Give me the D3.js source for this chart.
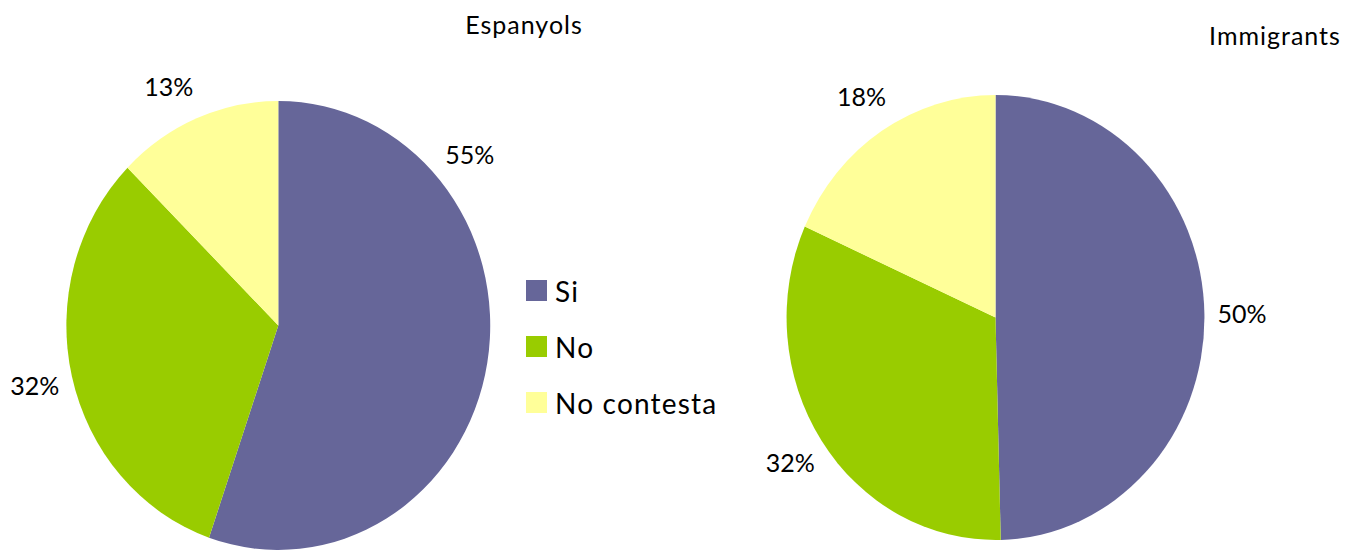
<!DOCTYPE html>
<html lang="ca">
<head>
<meta charset="UTF-8">
<title>Espanyols / Immigrants</title>
<style>
  body { margin: 0; background: #fff; }
  svg { display: block; font-family: Lato, "Open Sans", sans-serif; }
</style>
</head>
<body>
<script src="https://cdn.jsdelivr.net/npm/d3@7/dist/d3.min.js"></script>
<script>
// categories and series (percentages)
var categories = ["Si", "No", "No contesta"];
var colors = ["#666699", "#99CC00", "#FFFF99"];
var espanyols = [55.3, 32.1, 12.6];
var immigrants = [49.6, 32.1, 18.3];
var titles = ["Espanyols", "Immigrants"];

var width = 1348, height = 551;

var svg = d3.select("body").append("svg")
    .attr("width", width).attr("height", height);

// layout of each pie: centre, radius, horizontal squash (chart is slightly elliptical)
var pies = [
  { data: espanyols, cx: 278.3, cy: 325.5, r: 224.5, sx: 0.944, title: titles[0], tx: 524, ty: 34, labelAngle: [50, null, 334] },
  { data: immigrants, cx: 995.5, cy: 317.5, r: 222.5, sx: 0.939, title: titles[1], tx: 1275, ty: 45, labelAngle: [null, null, null] }
];

var pie = d3.pie().sort(null).value(function(d){ return d; });

pies.forEach(function(p){
  var arcs = pie(p.data);
  var arc = d3.arc().innerRadius(0).outerRadius(p.r);

  var g = svg.append("g")
      .attr("transform", "translate(" + p.cx + "," + p.cy + ") scale(" + p.sx + ",1)");

  g.selectAll("path").data(arcs).enter().append("path")
      .attr("d", arc)
      .attr("fill", function(d, i){ return colors[i]; });

  // percentage labels outside the pie
  var lr = p.r * 1.18;
  function ang(d, i){
    return p.labelAngle[i] != null ? p.labelAngle[i] * Math.PI / 180 : (d.startAngle + d.endAngle) / 2;
  }
  svg.append("g").selectAll("text").data(arcs).enter().append("text")
      .attr("x", function(d, i){ return p.cx + Math.sin(ang(d, i)) * lr * p.sx; })
      .attr("y", function(d, i){ return p.cy - Math.cos(ang(d, i)) * lr; })
      .attr("dy", "0.36em")
      .attr("text-anchor", "middle")
      .style("font-size", "25px")
      .attr("fill", "#000")
      .text(function(d){ return d3.format(".0f")(d.value) + "%"; });

  svg.append("text")
      .attr("x", p.tx).attr("y", p.ty)
      .attr("text-anchor", "middle")
      .style("font-size", "25px")
      .style("letter-spacing", "1px")
      .text(p.title);
});

// legend
var legend = svg.append("g").attr("transform", "translate(526,280)");
var item = legend.selectAll("g").data(categories).enter().append("g")
    .attr("transform", function(d, i){ return "translate(0," + (i * 56) + ")"; });
item.append("rect")
    .attr("width", 21).attr("height", 21)
    .attr("fill", function(d, i){ return colors[i]; });
item.append("text")
    .attr("x", 29).attr("y", 22)
    .style("font-size", "28px")
    .style("letter-spacing", "1.2px")
    .text(function(d){ return d; });
</script>
</body>
</html>
